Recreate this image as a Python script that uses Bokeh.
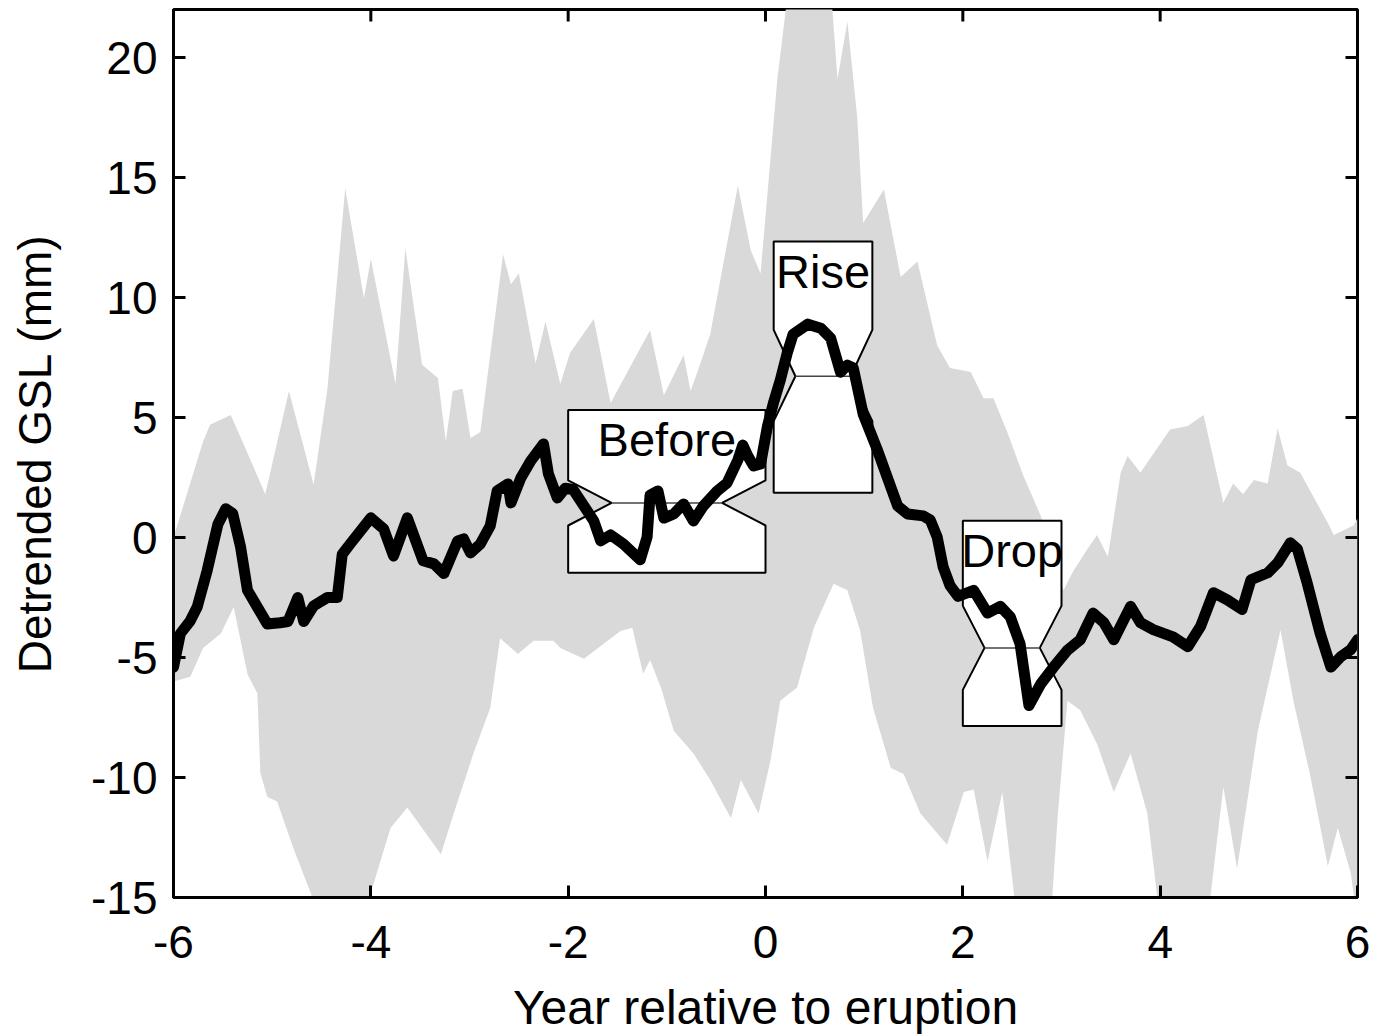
import math
from bokeh.plotting import figure
from bokeh.models import Range1d, FixedTicker
from bokeh.core.properties import value
from bokeh.embed import file_html
from bokeh.resources import INLINE

# ---- data -------------------------------------------------------------
line_x = [-6.00, -5.93, -5.83, -5.76, -5.66, -5.55, -5.47, -5.40, -5.32, -5.25, -5.15, -5.05,
          -4.92, -4.84, -4.74, -4.68, -4.58, -4.44, -4.34, -4.29, -4.21, -4.00, -3.87, -3.77,
          -3.63, -3.47, -3.36, -3.26, -3.12, -3.06, -2.99, -2.89, -2.79, -2.72, -2.61, -2.58,
          -2.48, -2.38, -2.25, -2.20, -2.11, -2.03, -1.95, -1.74, -1.67, -1.57, -1.44, -1.27,
          -1.20, -1.17, -1.09, -1.03, -0.93, -0.83, -0.73, -0.63, -0.49, -0.39, -0.28, -0.23,
          -0.18, -0.12, -0.05, 0.02, 0.08, 0.15, 0.22, 0.28, 0.43, 0.56, 0.66, 0.76, 0.83, 0.89,
          0.99, 1.13, 1.27, 1.34, 1.44, 1.60, 1.67, 1.74, 1.80, 1.87, 1.95, 2.11, 2.25, 2.38,
          2.48, 2.58, 2.67, 2.79, 2.92, 3.06, 3.19, 3.32, 3.43, 3.53, 3.70, 3.80, 3.93, 4.13,
          4.28, 4.41, 4.54, 4.68, 4.83, 4.92, 5.09, 5.19, 5.32, 5.39, 5.49, 5.62, 5.73, 5.83,
          5.93, 6.00]
line_y = [-5.4, -4.0, -3.47, -2.9, -1.4, 0.55, 1.2, 1.0, -0.4, -2.2, -2.9, -3.6,
          -3.55, -3.5, -2.5, -3.5, -2.85, -2.5, -2.5, -0.7, -0.27, 0.82, 0.36, -0.77,
          0.82, -0.97, -1.1, -1.5, -0.14, -0.06, -0.64, -0.27, 0.48, 1.94, 2.23, 1.44,
          2.48, 3.19, 3.9, 2.65, 1.65, 2.05, 2.0, 0.69, -0.14, 0.11, -0.27, -0.93,
          0.02, 1.77, 1.94, 0.81, 0.98, 1.4, 0.69, 1.31, 1.94, 2.27, 3.23, 3.85,
          3.4, 2.98, 3.06, 4.64, 5.6, 6.56, 7.68, 8.47, 8.89, 8.72, 8.31, 6.89, 7.18, 7.06,
          5.14, 3.69, 2.1, 1.31, 0.98, 0.9, 0.73, 0.02, -1.22, -2.0, -2.45, -2.2, -3.15, -2.87,
          -3.3, -4.43, -7.0, -6.1, -5.4, -4.7, -4.26, -3.15, -3.55, -4.26, -2.87, -3.55, -3.84, -4.14,
          -4.55, -3.7, -2.3, -2.6, -3.0, -1.76, -1.47, -1.06, -0.22, -0.47, -1.9, -3.97, -5.4, -4.97,
          -4.68, -4.26]

band_upper_x = [-6.00, -5.85, -5.70, -5.63, -5.42, -5.29, -5.07, -4.83, -4.58, -4.44, -4.26,
                -4.07, -4.00, -3.75, -3.65, -3.48, -3.32, -3.24, -3.17, -3.07, -2.99, -2.89,
                -2.66, -2.58, -2.50, -2.33, -2.23, -2.08, -1.98, -1.74, -1.57, -1.17, -1.03,
                -0.83, -0.76, -0.69, -0.56, -0.28, -0.15, -0.05, 0.12, 0.25, 0.66, 0.73, 0.83,
                0.93, 0.99, 1.20, 1.37, 1.54, 1.74, 1.87, 2.08, 2.21, 2.31, 2.45, 2.61, 2.79,
                3.02, 3.12, 3.26, 3.36, 3.47, 3.60, 3.67, 3.80, 4.10, 4.28, 4.44, 4.64, 4.74,
                4.84, 4.95, 5.09, 5.19, 5.29, 5.42, 5.70, 5.76, 5.96, 6.00]
band_upper_y = [0.0, 2.0, 4.0, 4.7, 5.1, 3.9, 1.8, 6.1, 2.2, 6.2, 14.55,
                9.97, 11.6, 6.4, 12.05, 7.2, 6.65, 4.0, 6.1, 6.2, 4.15, 4.4,
                11.8, 10.55, 11.0, 7.25, 9.0, 6.4, 7.7, 9.1, 5.6, 8.64, 5.93,
                7.6, 6.1, 6.9, 8.47, 14.67, 11.97, 11.0, 19.1, 23.5, 23.0, 19.1, 21.5,
                17.5, 13.1, 14.5, 10.85, 11.5, 8.0, 7.06, 6.9, 5.8, 5.8, 4.4, 2.6, 0.9,
                -2.2, -1.4, -0.5, 0.1, -0.8, 2.7, 3.4, 2.7, 4.5, 4.65, 5.1, 1.45, 2.25,
                1.8, 2.4, 2.25, 4.55, 3.0, 2.7, 0.6, 0.1, 0.5, 0.8]

band_lower_x = [-6.00, -5.83, -5.70, -5.52, -5.39, -5.25, -5.15, -5.12, -5.05, -4.95, -4.78,
                -4.61, -4.51, -4.10, -3.97, -3.80, -3.63, -3.29, -3.16, -2.96, -2.79, -2.69,
                -2.51, -2.35, -2.15, -2.08, -1.84, -1.47, -1.35, -1.24, -1.17, -1.06, -0.93,
                -0.73, -0.56, -0.35, -0.25, -0.07, 0.05, 0.15, 0.32, 0.49, 0.69, 0.83, 0.96,
                1.09, 1.27, 1.40, 1.57, 1.84, 2.01, 2.11, 2.25, 2.40, 2.55, 2.89, 2.96, 3.06,
                3.19, 3.36, 3.53, 3.70, 3.87, 4.00, 4.48, 4.64, 4.78, 4.99, 5.22, 5.35, 5.52,
                5.70, 5.80, 5.93, 6.00]
band_lower_y = [-6.0, -5.8, -4.6, -4.0, -2.9, -5.7, -6.5, -9.8, -10.8, -11.0, -13.0,
                -14.8, -16.0, -16.0, -14.4, -12.1, -11.25, -13.2, -11.5, -9.0, -7.1, -4.2,
                -4.85, -4.3, -4.3, -4.6, -5.05, -3.9, -3.76, -5.68, -5.1, -6.25, -8.05,
                -9.0, -10.1, -11.7, -10.1, -11.5, -9.3, -6.8, -6.25, -3.76, -1.93, -2.2, -3.9,
                -7.1, -9.6, -9.85, -11.5, -12.8, -10.6, -10.5, -13.5, -10.6, -16.0, -16.0, -11.7, -6.8,
                -7.2, -8.6, -10.6, -9.0, -11.5, -16.0, -16.0, -10.4, -13.8, -8.05, -3.85, -6.8, -9.9,
                -13.7, -12.1, -13.95, -16.0]

box_labels = ["Before", "Rise", "Drop"]
box_left = [-2.0, 0.083, 2.0]
box_right = [0.0, 1.083, 3.0]
box_q1 = [-1.47, 1.86, -7.85]
box_q3 = [5.31, 12.33, 0.7]
box_median = [1.44, 6.72, -4.6]
box_notch_low = [0.5, 4.85, -6.35]
box_notch_high = [2.38, 8.65, -2.85]

x_ticks = [-6, -4, -2, 0, 2, 4, 6]
x_tick_labels = ["-6", "-4", "-2", "0", "2", "4", "6"]
y_ticks = [-15, -10, -5, 0, 5, 10, 15, 20]
y_tick_labels = ["-15", "-10", "-5", "0", "5", "10", "15", "20"]

x_label = "Year relative to eruption"
y_label = "Detrended GSL (mm)"

X_MIN, X_MAX, Y_MIN, Y_MAX = -6, 6, -15, 22

# ---- figure -----------------------------------------------------------
FONT = "Liberation Sans"
p = figure(frame_width=1184, frame_height=888,
           min_border_left=173, min_border_right=18, min_border_top=9, min_border_bottom=137,
           x_range=Range1d(X_MIN, X_MAX), y_range=Range1d(Y_MIN, Y_MAX),
           output_backend="svg", toolbar_location=None)
p.background_fill_color = "white"
p.border_fill_color = "white"
p.xgrid.visible = False
p.ygrid.visible = False
p.outline_line_color = "black"
p.outline_line_width = 3

# band
p.patch(band_upper_x + band_lower_x[::-1], band_upper_y + band_lower_y[::-1],
        fill_color="#d9d9d9", line_color=None)

# notched boxes
NOTCH = 0.22
bxs, bys, mx0, mx1, tx = [], [], [], [], []
for x0, x1, q1, q3, md, nl, nh in zip(box_left, box_right, box_q1, box_q3,
                                       box_median, box_notch_low, box_notch_high):
    d = (x1 - x0) * NOTCH
    bxs.append([x0, x0, x0 + d, x0, x0, x1, x1, x1 - d, x1, x1])
    bys.append([q1, nl, md, nh, q3, q3, nh, md, nl, q1])
    mx0.append(x0 + d)
    mx1.append(x1 - d)
    tx.append((x0 + x1) / 2)
p.patches(bxs, bys, fill_color="white", line_color="black", line_width=2)
p.segment(x0=mx0, y0=box_median, x1=mx1, y1=box_median, line_color="#444444", line_width=1.5)
p.text(x=tx, y=box_q3, text=box_labels, text_align="center", text_baseline="top",
       y_offset=3, text_font=value(FONT), text_font_size="47px", text_color="black")

# main line
p.line(line_x, line_y, line_color="black", line_width=11, line_join="round", line_cap="round")

# inward ticks on the top and right edges (box on)
p.ray(x=x_ticks, y=[Y_MAX] * len(x_ticks), length=12, length_units="screen",
      angle=-math.pi / 2, line_color="black", line_width=3)
p.ray(x=[X_MAX] * len(y_ticks), y=y_ticks, length=12, length_units="screen",
      angle=math.pi, line_color="black", line_width=3)

# axes
def style_axis(ax):
    ax.axis_line_color = "black"
    ax.axis_line_width = 3
    ax.major_tick_line_color = "black"
    ax.major_tick_line_width = 3
    ax.major_tick_in = 12
    ax.major_tick_out = 0
    ax.minor_tick_line_color = None
    ax.major_label_text_font = FONT
    ax.major_label_text_font_size = "46px"
    ax.major_label_text_color = "black"
    ax.axis_label_text_font = FONT
    ax.axis_label_text_font_style = "normal"
    ax.axis_label_text_color = "black"

xa = p.xaxis[0]
xa.ticker = FixedTicker(ticks=x_ticks)
xa.major_label_overrides = dict(zip(x_ticks, x_tick_labels))
xa.axis_label = x_label
style_axis(xa)
xa.axis_label_text_font_size = "48px"
xa.major_label_standoff = 28
xa.axis_label_standoff = 20

ya = p.yaxis[0]
ya.ticker = FixedTicker(ticks=y_ticks)
ya.major_label_overrides = dict(zip(y_ticks, y_tick_labels))
ya.axis_label = y_label
style_axis(ya)
ya.axis_label_text_font_size = "46px"
ya.major_label_standoff = 16
ya.axis_label_standoff = 27

open("out.html", "w").write(file_html(p, INLINE))
